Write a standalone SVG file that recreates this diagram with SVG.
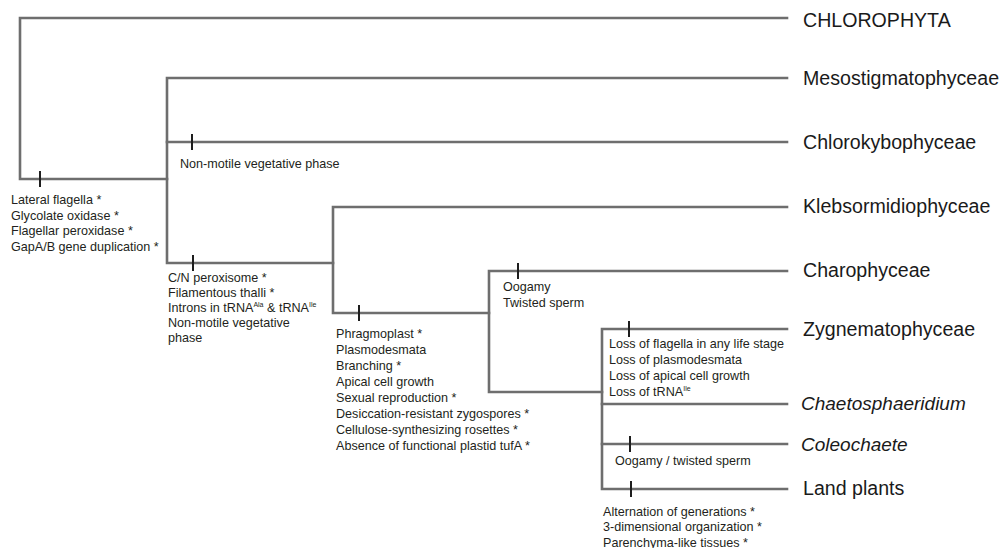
<svg xmlns="http://www.w3.org/2000/svg" width="1003" height="548" viewBox="0 0 1003 548">
<style>
.br{fill:none;stroke:#6e6e6e;stroke-width:2.6;stroke-linejoin:miter;stroke-linecap:square}
.tk{stroke:#1e1e1e;stroke-width:2}
.s{font-family:"Liberation Sans",Arial,sans-serif;font-size:12.6px;fill:#231f20}
.sup{font-size:7px}
.t{font-family:"Liberation Sans",Arial,sans-serif;font-size:19.6px;fill:#1a1a1a}
.i{font-style:italic;font-size:19px}
</style>
<rect width="1003" height="548" fill="#ffffff"/>
<g id="connectors">
<path class="br" d="M787,18 H20 V179 H167"/>
<path class="br" d="M787,78 H167 V263 H333"/>
<path class="br" d="M167,142 H787"/>
<path class="br" d="M787,207 H333 V313 H489"/>
<path class="br" d="M787,271 H489 V392 H602"/>
<path class="br" d="M787,329 H602 V489 H787"/>
<path class="br" d="M602,404 H787"/>
<path class="br" d="M602,444 H787"/>
<g id="ticks">
<line class="tk" x1="40" y1="171" x2="40" y2="187"/>
<line class="tk" x1="192" y1="134" x2="192" y2="150"/>
<line class="tk" x1="193" y1="255" x2="193" y2="271"/>
<line class="tk" x1="359" y1="305" x2="359" y2="321"/>
<line class="tk" x1="518" y1="263" x2="518" y2="279"/>
<line class="tk" x1="629" y1="321" x2="629" y2="337"/>
<line class="tk" x1="630" y1="436" x2="630" y2="452"/>
<line class="tk" x1="631" y1="481" x2="631" y2="497"/>
</g>
</g>
<g id="taxon-chlorophyta"><text class="t" x="803" y="27">CHLOROPHYTA</text></g>
<g id="taxon-mesostigmatophyceae"><text class="t" x="803" y="85">Mesostigmatophyceae</text></g>
<g id="taxon-chlorokybophyceae"><text class="t" x="803" y="149">Chlorokybophyceae</text></g>
<g id="taxon-klebsormidiophyceae"><text class="t" x="803" y="213">Klebsormidiophyceae</text></g>
<g id="taxon-charophyceae"><text class="t" x="803" y="277">Charophyceae</text></g>
<g id="taxon-zygnematophyceae"><text class="t" x="803" y="336">Zygnematophyceae</text></g>
<g id="taxon-chaetosphaeridium"><text class="t i" x="801" y="410">Chaetosphaeridium</text></g>
<g id="taxon-coleochaete"><text class="t i" x="801" y="451">Coleochaete</text></g>
<g id="taxon-landplants"><text class="t" x="803" y="495">Land plants</text></g>
<g id="node-streptophyta">
<text class="s" x="11" y="204">Lateral flagella *</text>
<text class="s" x="11" y="219.5">Glycolate oxidase *</text>
<text class="s" x="11" y="235">Flagellar peroxidase *</text>
<text class="s" x="11" y="250.5">GapA/B gene duplication *</text>
</g>
<g id="node-chlorokybophyceae">
<text class="s" x="180" y="168">Non-motile vegetative phase</text>
</g>
<g id="node-klebsormidiophyceae-plus">
<text class="s" x="168" y="282">C/N peroxisome *</text>
<text class="s" x="168" y="297">Filamentous thalli *</text>
<text class="s" x="168" y="312">Introns in tRNA<tspan class="sup" dy="-5">Ala</tspan><tspan dy="5"> &amp; tRNA</tspan><tspan class="sup" dy="-5">Ile</tspan></text>
<text class="s" x="168" y="327">Non-motile vegetative</text>
<text class="s" x="168" y="342">phase</text>
</g>
<g id="node-phragmoplastophyta">
<text class="s" x="336" y="337.5">Phragmoplast *</text>
<text class="s" x="336" y="353.5">Plasmodesmata</text>
<text class="s" x="336" y="369.5">Branching *</text>
<text class="s" x="336" y="385.5">Apical cell growth</text>
<text class="s" x="336" y="401.5">Sexual reproduction *</text>
<text class="s" x="336" y="417.5">Desiccation-resistant zygospores *</text>
<text class="s" x="336" y="433.5">Cellulose-synthesizing rosettes *</text>
<text class="s" x="336" y="449.5">Absence of functional plastid tufA *</text>
</g>
<g id="node-charophyceae">
<text class="s" x="503" y="291">Oogamy</text>
<text class="s" x="503" y="307">Twisted sperm</text>
</g>
<g id="node-zygnematophyceae">
<text class="s" x="609" y="347.5">Loss of flagella in any life stage</text>
<text class="s" x="609" y="363.5">Loss of plasmodesmata</text>
<text class="s" x="609" y="379.5">Loss of apical cell growth</text>
<text class="s" x="609" y="395.5">Loss of tRNA<tspan class="sup" dy="-5">Ile</tspan></text>
</g>
<g id="node-coleochaete">
<text class="s" x="615" y="464.5">Oogamy / twisted sperm</text>
</g>
<g id="node-landplants">
<text class="s" x="603" y="515.5">Alternation of generations *</text>
<text class="s" x="603" y="531">3-dimensional organization *</text>
<text class="s" x="603" y="546.5">Parenchyma-like tissues *</text>
</g>
</svg>
